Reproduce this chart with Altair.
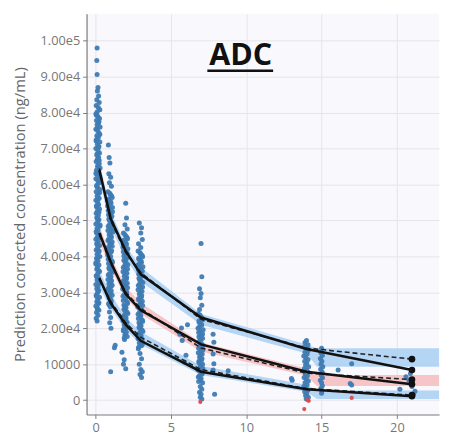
import altair as alt
import pandas as pd

# ---------------- observed data (time in days, concentration in 1000 ng/mL) -------------
obs_day0 = [(0.10,98.0),(0.08,94.5),(0.10,90.6),(0.16,87.0),(0.12,86.0),(0.20,84.6),(0.08,83.6),(0.24,82.8),
            (0.04,82.0),(0.18,81.4),(0.28,80.8),(0.10,80.2),(0.02,79.6),(0.14,79.0),(0.26,78.4),(0.06,77.8),
            (0.20,77.2),(0.10,76.6),(0.30,76.0),(0.02,75.4),(0.16,74.8),(0.24,74.2),(0.08,73.6),(0.18,73.0),
            (0.04,72.4),(0.28,71.8),(0.12,71.2),(0.22,70.6),(0.02,70.0),(0.16,69.4),(0.26,68.8),(0.08,68.2),
            (0.20,67.6),(0.12,67.0),(0.04,66.4),(0.24,65.8),(0.14,65.2),(0.30,64.6),(0.06,64.0),(0.18,63.4),
            (0.10,62.8),(0.26,62.2),(0.02,61.6),(0.16,61.0),(0.22,60.4),(0.08,59.8),(0.12,59.2),(0.28,58.6),
            (0.04,58.0),(0.18,57.4),(0.10,56.8),(0.24,56.2),(0.02,55.6),(0.14,55.0),(0.20,54.4),(0.06,53.8),
            (0.26,53.2),(0.12,52.6),(0.04,52.0),(0.18,51.4),(0.08,50.8),(0.22,50.2),(0.14,49.6),(0.02,49.0),
            (0.28,48.4),(0.10,47.8),(0.16,47.2),(0.06,46.6),(0.24,46.0),(0.12,45.4),(0.02,44.8),(0.18,44.2),
            (0.08,43.6),(0.26,43.0),(0.14,42.4),(0.04,41.8),(0.20,41.2),(0.10,40.6),(0.28,40.0),(0.06,39.4),
            (0.16,38.8),(0.02,38.2),(0.22,37.6),(0.12,37.0),(0.08,36.4),(0.26,35.8),(0.14,35.2),(0.04,34.6),
            (0.18,34.0),(0.10,33.4),(0.24,32.8),(0.02,32.2),(0.16,31.6),(0.08,31.0),(0.20,30.4),(0.12,29.8),
            (0.04,29.2),(0.26,28.6),(0.14,28.0),(0.08,27.4),(0.18,26.8),(0.02,26.2),(0.12,25.6),(0.22,25.0),
            (0.06,24.4),(0.16,23.6),(0.04,22.8),(0.10,22.0)]

obs_day1 = [(0.85,71.0),(0.90,67.5),(0.95,66.0),(0.88,63.0),(1.00,62.0),(0.92,60.5),(1.05,59.5),
            (0.82,58.0),(0.98,57.2),(1.10,56.4),(0.88,55.6),(1.02,54.8),(0.80,54.0),(0.95,53.2),(1.12,52.4),
            (0.86,51.6),(1.00,50.8),(0.92,50.0),(1.08,49.2),(0.84,48.4),(0.98,47.6),(1.14,46.8),(0.90,46.0),
            (1.04,45.2),(0.82,44.4),(0.96,43.6),(1.10,42.8),(0.88,42.0),(1.02,41.2),(0.80,40.4),(0.94,39.6),
            (1.08,38.8),(0.86,38.0),(1.00,37.2),(0.92,36.4),(1.12,35.6),(0.84,34.8),(0.98,34.0),(1.06,33.2),
            (0.88,32.4),(1.02,31.6),(0.82,30.8),(0.96,30.0),(1.10,29.2),(0.90,28.4),(1.04,27.6),(0.86,26.8),
            (0.98,26.0),(0.92,24.5),(1.00,23.0),(0.94,21.5),(1.02,20.0),(1.00,7.9)]

obs_day2 = [(2.00,54.8),(2.05,50.7),(1.95,48.8),(2.10,47.6),
            (1.85,46.5),(2.00,45.7),(2.12,44.9),(1.90,44.1),(2.05,43.3),(1.82,42.5),(1.96,41.7),(2.10,40.9),
            (1.88,40.1),(2.02,39.3),(1.94,38.5),(2.14,37.7),(1.84,36.9),(1.98,36.1),(2.08,35.3),(1.90,34.5),
            (2.04,33.7),(1.86,32.9),(2.00,32.1),(2.12,31.3),(1.92,30.5),(2.06,29.7),(1.82,28.9),(1.96,28.1),
            (2.10,27.3),(1.88,26.5),(2.02,25.7),(1.94,24.9),(2.14,24.1),(1.86,23.3),(2.00,22.5),(2.08,21.7),
            (1.90,20.9),(2.04,20.1),(1.84,19.3),(1.98,18.5),(2.10,17.7),(1.92,16.9),
            (1.30,15.3),(1.25,14.6),(1.75,13.3),(1.85,10.0),(1.90,11.2),(2.00,8.7)]

obs_day3 = [(2.90,49.3),(3.05,48.0),(3.00,46.5),(3.10,44.7),(2.85,43.5),(3.00,42.5),
            (2.82,41.5),(2.98,40.7),(3.12,39.9),(2.88,39.1),(3.04,38.3),(2.80,37.5),(2.94,36.7),(3.10,35.9),
            (2.86,35.1),(3.00,34.3),(2.92,33.5),(3.14,32.7),(2.84,31.9),(2.98,31.1),(3.08,30.3),(2.90,29.5),
            (3.04,28.7),(2.86,27.9),(3.00,27.1),(3.12,26.3),(2.92,25.5),(3.06,24.7),(2.82,23.9),(2.96,23.1),
            (3.10,22.3),(2.88,21.5),(3.02,20.7),(2.94,19.9),(3.14,19.1),(2.86,18.3),(3.00,17.5),(3.08,16.7),
            (2.90,15.9),(3.04,15.1),(2.84,14.3),
            (2.95,13.0),(3.05,11.5),(2.90,10.0),(3.00,8.5),(3.10,7.9),(2.95,7.1),(3.05,6.3)]

obs_day6 = [(5.70,20.1),(5.60,18.3),(5.75,16.6),(6.00,12.5),(5.90,10.6),(6.10,21.0)]

obs_day7 = [(7.00,43.6),(7.05,34.3),(6.90,31.0),(7.00,29.7),(6.95,28.5),(7.05,26.4),(6.90,25.2),
            (6.82,24.0),(6.98,23.2),(7.12,22.4),(6.88,21.6),(7.04,20.8),(6.80,20.0),(6.94,19.2),(7.10,18.4),
            (6.86,17.6),(7.00,16.8),(6.92,16.0),(7.14,15.2),(6.84,14.4),(6.98,13.6),(7.08,12.8),(6.90,12.0),
            (7.04,11.2),(6.86,10.4),(7.00,9.6),(7.12,8.8),(6.92,8.0),(7.06,7.2),(6.82,6.4),(6.96,5.6),
            (7.10,4.8),(6.95,3.8),(7.05,3.0),(6.90,2.2),(7.00,1.6),(6.95,0.8),(7.05,0.3)]

obs_day8 = [(7.80,18.3),(7.85,16.1),(7.80,12.8),(7.85,10.1),(7.80,8.4),(7.90,1.6),(8.80,8.2)]

obs_day14 = [(13.00,6.0),(13.05,5.5),(14.00,16.6),(13.90,16.0),(14.10,15.4),
             (13.84,14.8),(13.98,14.3),(14.12,13.8),(13.90,13.3),(14.04,12.8),(13.82,12.3),(13.96,11.8),
             (14.10,11.3),(13.88,10.8),(14.02,10.3),(13.94,9.8),(14.14,9.3),(13.86,8.8),(14.00,8.3),
             (14.08,7.8),(13.92,7.3),(14.06,6.8),(13.84,6.3),(13.98,5.8),(14.12,5.3),(13.90,4.8),
             (14.04,4.3),(13.82,3.8),(13.96,3.3),(14.10,2.8),(13.88,2.3),(14.02,1.8),(13.94,1.3),
             (14.12,0.8),(13.98,0.4)]

obs_day15 = [(15.00,14.4),(14.95,13.2),(15.05,12.4),(14.92,11.6),(15.02,10.8),(14.96,10.0),(15.08,9.3),
             (14.94,8.6),(15.04,7.8),(14.98,7.0),(15.06,6.2),(14.92,5.5),(15.00,4.8),(15.05,4.0),
             (14.96,3.3),(15.02,2.6),(15.00,1.9)]

obs_late = [(16.10,8.4),(17.00,10.1),(16.90,4.6),(17.00,4.2),(20.20,3.0),(20.60,6.5),(20.90,7.4),
            (21.00,4.6),(21.10,1.6),(21.00,3.8),(20.80,5.5),(21.20,2.5)]

# additional samples inside the dense columns (time list + concentration list)
day0b_t = [0.06,0.22,0.12,0.28,0.04,0.18,0.10,0.24,0.14,0.02,0.20,0.08,0.26,0.16,0.06,0.22,0.12,0.30,
           0.04,0.18,0.10,0.24,0.14,0.02,0.20,0.08,0.26,0.16,0.06,0.22,0.12]
day0b_c = [79.3,77.5,75.7,73.9,72.1,70.3,68.5,66.7,64.9,63.1,61.3,59.5,57.7,55.9,54.1,52.3,50.5,48.7,
           46.9,45.1,43.3,41.5,39.7,37.9,36.1,34.3,32.5,30.7,28.9,27.1,25.3]
day1b_t = [0.94,1.06,0.86,1.00,0.90,1.12,0.84,0.96,1.08,0.88,1.02,0.92,1.14,0.82,0.98,1.04,0.86,1.10,
           0.94,0.80,1.06,0.90,1.00,0.84,1.12,0.96,0.88,1.08,0.92,1.02,0.82,0.98,1.10,0.86,1.04,0.94,
           0.90,1.00,0.96,0.92]
day1b_c = [57.6,56.8,56.0,55.2,54.4,53.6,52.8,52.0,51.2,50.4,49.6,48.8,48.0,47.2,46.4,45.6,44.8,44.0,
           43.2,42.4,41.6,40.8,40.0,39.2,38.4,37.6,36.8,36.0,35.2,34.4,33.6,32.8,32.0,31.2,30.4,29.6,
           28.8,28.0,27.2,26.4]
day2b_t = [1.94,2.08,1.86,2.02,1.90,2.14,1.84,1.98,2.10,1.88,2.04,1.92,2.12,1.82,1.96,2.06,1.86,2.10,
           1.94,1.80,2.06,1.90,2.00,1.84,2.12,1.96,1.88,2.08,1.92,2.02,1.82,1.98,2.10,1.86,2.04,1.94,1.90]
day2b_c = [46.1,45.3,44.5,43.7,42.9,42.1,41.3,40.5,39.7,38.9,38.1,37.3,36.5,35.7,34.9,34.1,33.3,32.5,
           31.7,30.9,30.1,29.3,28.5,27.7,26.9,26.1,25.3,24.5,23.7,22.9,22.1,21.3,20.5,19.7,18.9,18.1,17.3]
day3b_t = [2.94,3.08,2.86,3.02,2.90,3.14,2.84,2.98,3.10,2.88,3.04,2.92,3.12,2.82,2.96,3.06,2.86,3.10,
           2.94,2.80,3.06,2.90,3.00,2.84,3.12,2.96,2.88,3.08,2.92,3.02,2.82,2.98,3.10,2.86]
day3b_c = [41.1,40.3,39.5,38.7,37.9,37.1,36.3,35.5,34.7,33.9,33.1,32.3,31.5,30.7,29.9,29.1,28.3,27.5,
           26.7,25.9,25.1,24.3,23.5,22.7,21.9,21.1,20.3,19.5,18.7,17.9,17.1,16.3,15.5,14.7]
day7b_t = [6.94,7.08,6.86,7.02,6.90,7.14,6.84,6.98,7.10,6.88,7.04,6.92,7.12,6.82,6.96,7.06,6.86,7.10,
           6.94,6.80,7.06,6.90,7.00,6.84]
day7b_c = [23.6,22.8,22.0,21.2,20.4,19.6,18.8,18.0,17.2,16.4,15.6,14.8,14.0,13.2,12.4,11.6,10.8,10.0,
           9.2,8.4,7.6,6.8,6.0,5.2]

obs_red = [(6.95,-0.5),(13.85,-2.5),(14.05,0.0),(14.15,-0.2),(17.00,0.6)]

# ---------------- VPC percentile lines (1000 ng/mL) ----------------
bin_times = [0.25, 1, 2, 3, 7, 14, 21]
obs_p95 = [64.0, 50.5, 41.5, 35.0, 23.0, 14.2, 8.4]
sim_p95 = [64.5, 50.0, 41.0, 35.5, 22.5, 14.5, 11.4]
obs_p50 = [46.5, 38.5, 29.5, 25.0, 15.5, 7.9, 4.4]
sim_p50 = [46.0, 38.0, 30.0, 25.5, 14.5, 7.5, 5.7]
obs_p05 = [34.0, 27.0, 21.0, 16.5, 7.9, 3.0, 1.1]
sim_p05 = [33.5, 27.5, 21.5, 17.5, 8.5, 3.2, 1.4]

# ---------------- simulated confidence bands (1000 ng/mL) ----------------
band_times = [0.25, 1, 2, 3, 7, 14, 14.7, 22.8]
p95_lo = [61.5, 48.0, 39.5, 33.0, 21.0, 13.0, 9.3, 9.3]
p95_hi = [66.5, 52.5, 43.0, 37.0, 24.0, 15.5, 14.4, 14.4]
p50_lo = [44.0, 36.5, 28.5, 24.0, 13.5, 6.8, 3.9, 3.9]
p50_hi = [48.5, 40.0, 31.5, 27.0, 16.0, 8.8, 7.0, 7.0]
p05_lo = [31.5, 25.5, 19.5, 15.5, 7.0, 2.3, 0.3, 0.3]
p05_hi = [36.0, 29.5, 23.0, 19.0, 9.5, 4.3, 2.7, 2.7]

y_ticks = [0, 10000, 20000, 30000, 40000, 50000, 60000, 70000, 80000, 90000, 100000]
x_ticks = [0, 5, 10, 15, 20]

# ---------------- build tables ----------------
blue_cols = [obs_day0, obs_day1, obs_day2, obs_day3, obs_day6, obs_day7, obs_day8,
             obs_day14, obs_day15, obs_late]
extra_cols = [(day0b_t, day0b_c), (day1b_t, day1b_c), (day2b_t, day2b_c), (day3b_t, day3b_c),
              (day7b_t, day7b_c)]
obs_rows = [{"t": t, "c": c * 1000} for col in blue_cols for (t, c) in col]
obs_rows += [{"t": t, "c": c * 1000} for (ts, cs) in extra_cols for t, c in zip(ts, cs)]
obs_df = pd.DataFrame(obs_rows)
red_df = pd.DataFrame([{"t": t, "c": c * 1000} for (t, c) in obs_red])

line_rows = []
for name, vals, kind in [("p95", obs_p95, "obs"), ("p50", obs_p50, "obs"), ("p05", obs_p05, "obs"),
                         ("p95", sim_p95, "sim"), ("p50", sim_p50, "sim"), ("p05", sim_p05, "sim")]:
    for t, v in zip(bin_times, vals):
        line_rows.append({"t": t, "c": v * 1000, "series": name + kind, "kind": kind})
line_df = pd.DataFrame(line_rows)
end_df = line_df[line_df["t"] == bin_times[-1]]

band_rows = []
for name, lo, hi in [("p95", p95_lo, p95_hi), ("p50", p50_lo, p50_hi), ("p05", p05_lo, p05_hi)]:
    for t, a, b in zip(band_times, lo, hi):
        band_rows.append({"t": t, "lo": a * 1000, "hi": b * 1000, "band": name})
band_df = pd.DataFrame(band_rows)

# ---------------- scales / axes ----------------
xs = alt.Scale(domain=[-0.6, 22.8], nice=False, zero=False)
ys = alt.Scale(domain=[-4000, 107500], nice=False, zero=False)

x_enc = alt.X("t:Q", scale=xs, axis=alt.Axis(values=x_ticks, title=None, format="d",
                                             tickSize=4, labelPadding=3))
y_enc = alt.Y("c:Q", scale=ys, axis=alt.Axis(
    values=y_ticks,
    title="Prediction corrected concentration (ng/mL)",
    labelExpr="datum.value == 0 ? '0' : datum.value == 10000 ? '10000' : replace(format(datum.value, '.2e'), '+', '')",
    tickSize=4, labelPadding=3,
    titleX=-68, titleY=204, titleAngle=-90, titleAlign="center", titleBaseline="middle",
    titleFontSize=15, titleFontWeight="normal", titleColor="#666666", titleFont="Open Sans"))

bands = alt.Chart(band_df).mark_area(opacity=0.85).encode(
    x=alt.X("t:Q", scale=xs),
    y=alt.Y("lo:Q", scale=ys, stack=None),
    y2="hi:Q",
    detail="band:N",
    color=alt.Color("band:N", scale=alt.Scale(domain=["p95", "p50", "p05"],
                                              range=["#a9cff3", "#f6bcbe", "#a9cff3"]), legend=None),
)

points = alt.Chart(obs_df).mark_circle(size=26, opacity=0.95, color="#3f7bb3").encode(x=x_enc, y=y_enc)
red_points = alt.Chart(red_df).mark_circle(size=18, opacity=0.95, color="#e04848").encode(
    x=alt.X("t:Q", scale=xs), y=alt.Y("c:Q", scale=ys))

obs_lines = alt.Chart(line_df[line_df["kind"] == "obs"]).mark_line(
    color="#111111", strokeWidth=2.6).encode(
    x=alt.X("t:Q", scale=xs), y=alt.Y("c:Q", scale=ys), detail="series:N")
sim_lines = alt.Chart(line_df[line_df["kind"] == "sim"]).mark_line(
    color="#222222", strokeWidth=1.6, strokeDash=[5, 3]).encode(
    x=alt.X("t:Q", scale=xs), y=alt.Y("c:Q", scale=ys), detail="series:N")
ends = alt.Chart(end_df).mark_circle(size=45, color="#111111", opacity=1).encode(
    x=alt.X("t:Q", scale=xs), y=alt.Y("c:Q", scale=ys))

title_text = alt.Chart(alt.Data(values=[{"label": "ADC"}])).mark_text(
    font="Open Sans", fontSize=31, fontWeight="bold", color="#111111", align="center", baseline="alphabetic"
).encode(x=alt.value(157), y=alt.value(52), text="label:N")
underline = alt.Chart(alt.Data(values=[{"a": 1}])).mark_rule(color="#111111", strokeWidth=2.5).encode(
    x=alt.value(123), x2=alt.value(190), y=alt.value(58))

chart = alt.layer(bands, points, red_points, sim_lines, obs_lines, ends, title_text, underline).properties(
    width=359, height=408,
    autosize=alt.AutoSizeParams(type="none"),
    padding={"left": 80, "top": 2, "right": 5, "bottom": 20},
    background="white",
).configure_view(fill="#f8f8fd", stroke=None).configure_axis(
    domainColor="#7a7a7a", domainWidth=1.2, tickColor="#7a7a7a", gridColor="#e4e4ea", gridWidth=1,
    labelColor="#777777", labelFont="Open Sans", labelFontSize=13,
)

chart.save("out.html", embed_options={"renderer": "svg", "actions": False})
